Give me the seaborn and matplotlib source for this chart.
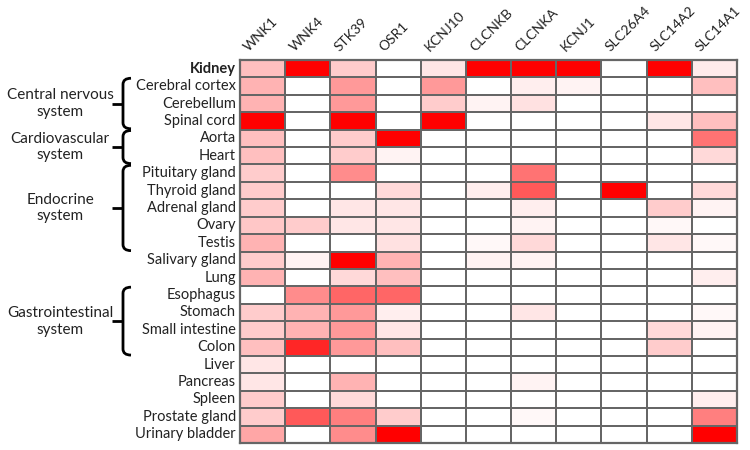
import numpy as np
import pandas as pd
import matplotlib
matplotlib.use('Agg')
import matplotlib.pyplot as plt
import matplotlib.transforms as mtransforms
from matplotlib.path import Path
from matplotlib.patches import PathPatch
from matplotlib.colors import LinearSegmentedColormap
import seaborn as sns

genes = ['WNK1', 'WNK4', 'STK39', 'OSR1', 'KCNJ10', 'CLCNKB', 'CLCNKA',
         'KCNJ1', 'SLC26A4', 'SLC14A2', 'SLC14A1']

tissues = ['Kidney', 'Cerebral cortex', 'Cerebellum', 'Spinal cord', 'Aorta',
           'Heart', 'Pituitary gland', 'Thyroid gland', 'Adrenal gland', 'Ovary',
           'Testis', 'Salivary gland', 'Lung', 'Esophagus', 'Stomach',
           'Small intestine', 'Colon', 'Liver', 'Pancreas', 'Spleen',
           'Prostate gland', 'Urinary bladder']

# relative expression, 0 = white, 1 = full red
expr = [
    [0.25, 1.00, 0.20, 0.00, 0.10, 1.00, 1.00, 1.00, 0.00, 1.00, 0.08],
    [0.30, 0.00, 0.40, 0.00, 0.40, 0.00, 0.07, 0.05, 0.00, 0.00, 0.25],
    [0.30, 0.00, 0.40, 0.00, 0.20, 0.05, 0.12, 0.00, 0.00, 0.00, 0.00],
    [1.00, 0.00, 1.00, 0.00, 1.00, 0.00, 0.00, 0.00, 0.00, 0.10, 0.25],
    [0.25, 0.00, 0.20, 1.00, 0.00, 0.00, 0.00, 0.00, 0.00, 0.00, 0.55],
    [0.25, 0.00, 0.20, 0.05, 0.00, 0.00, 0.00, 0.00, 0.00, 0.00, 0.15],
    [0.20, 0.00, 0.45, 0.00, 0.00, 0.00, 0.55, 0.00, 0.00, 0.00, 0.00],
    [0.20, 0.00, 0.00, 0.15, 0.00, 0.07, 0.65, 0.00, 1.00, 0.00, 0.15],
    [0.20, 0.00, 0.10, 0.10, 0.00, 0.00, 0.07, 0.00, 0.00, 0.20, 0.05],
    [0.22, 0.20, 0.10, 0.10, 0.00, 0.00, 0.05, 0.00, 0.00, 0.03, 0.00],
    [0.30, 0.00, 0.00, 0.12, 0.00, 0.03, 0.15, 0.00, 0.00, 0.10, 0.03],
    [0.20, 0.05, 1.00, 0.30, 0.00, 0.05, 0.05, 0.00, 0.00, 0.00, 0.00],
    [0.30, 0.00, 0.15, 0.25, 0.00, 0.00, 0.00, 0.00, 0.00, 0.00, 0.07],
    [0.00, 0.45, 0.60, 0.60, 0.00, 0.00, 0.00, 0.00, 0.00, 0.00, 0.00],
    [0.20, 0.30, 0.40, 0.07, 0.00, 0.00, 0.10, 0.00, 0.00, 0.00, 0.03],
    [0.20, 0.30, 0.40, 0.10, 0.00, 0.00, 0.00, 0.00, 0.00, 0.15, 0.05],
    [0.25, 0.85, 0.40, 0.25, 0.00, 0.00, 0.00, 0.00, 0.00, 0.20, 0.00],
    [0.10, 0.00, 0.00, 0.00, 0.00, 0.00, 0.00, 0.00, 0.00, 0.00, 0.00],
    [0.10, 0.00, 0.30, 0.00, 0.00, 0.00, 0.05, 0.00, 0.00, 0.00, 0.00],
    [0.20, 0.00, 0.15, 0.00, 0.00, 0.00, 0.00, 0.00, 0.00, 0.00, 0.07],
    [0.20, 0.65, 0.50, 0.20, 0.00, 0.00, 0.03, 0.00, 0.00, 0.00, 0.50],
    [0.35, 0.00, 0.45, 1.00, 0.00, 0.00, 0.00, 0.00, 0.00, 0.00, 1.00],
]

# organ systems: label, first row, last row
groups = [('Central nervous\nsystem', 1, 3),
          ('Cardiovascular\nsystem', 4, 5),
          ('Endocrine\nsystem', 6, 10),
          ('Gastrointestinal\nsystem', 13, 16)]

df = pd.DataFrame(expr, index=tissues, columns=genes)

sns.set_theme(style='white')
plt.rcParams['font.family'] = ['Lato', 'DejaVu Sans']

fig = plt.figure(figsize=(7.5, 4.5), dpi=100)
ax = fig.add_axes([240 / 750, 1 - 443 / 450, 497 / 750, 383 / 450])

cmap = LinearSegmentedColormap.from_list('wr', ['#ffffff', '#ff0000'])
sns.heatmap(df, ax=ax, cmap=cmap, vmin=0, vmax=1, cbar=False,
            linewidths=1.3, linecolor='#666666')

for s in ax.spines.values():
    s.set_visible(True)
    s.set_color('#666666')
    s.set_linewidth(1.6)

ax.xaxis.tick_top()
ax.tick_params(axis='both', length=0)
ax.tick_params(axis='x', pad=5)
ax.tick_params(axis='y', pad=3)
ax.set_xlabel('')
ax.set_ylabel('')

ax.set_xticklabels(genes, rotation=45, ha='left', va='bottom',
                   rotation_mode='anchor', fontsize=10, color='#222222')
shift = mtransforms.ScaledTranslation(-12 / 100, 0, fig.dpi_scale_trans)
for lab in ax.get_xticklabels():
    lab.set_transform(lab.get_transform() + shift)

ax.set_yticklabels(tissues, rotation=0, fontsize=10.5, color='#222222')
ax.get_yticklabels()[0].set_fontweight('bold')

# braces and group labels
trans = mtransforms.blended_transform_factory(fig.transFigure, ax.transData)
xr, xm, xt = 131 / 750, 123 / 750, 112 / 750
for name, r0, r1 in groups:
    top = r0 + 0.05
    bot = r1 + 1 - 0.05
    mid = (r0 + r1 + 1) / 2
    rr = 0.35
    verts = [(xr, top), (xm, top), (xm, top + rr),
             (xm, bot - rr), (xm, bot), (xr, bot)]
    codes = [Path.MOVETO, Path.CURVE3, Path.CURVE3,
             Path.LINETO, Path.CURVE3, Path.CURVE3]
    ax.add_patch(PathPatch(Path(verts, codes), transform=trans, fill=False,
                           lw=2, edgecolor='black', clip_on=False))
    ax.plot([xt, xm], [mid, mid], transform=trans, color='black', lw=2,
            clip_on=False, solid_capstyle='butt')
    ax.text(60 / 750, mid, name, transform=trans, ha='center', va='center',
            fontsize=11, color='#222222', linespacing=1.25)

fig.savefig('out.png', dpi=100)
